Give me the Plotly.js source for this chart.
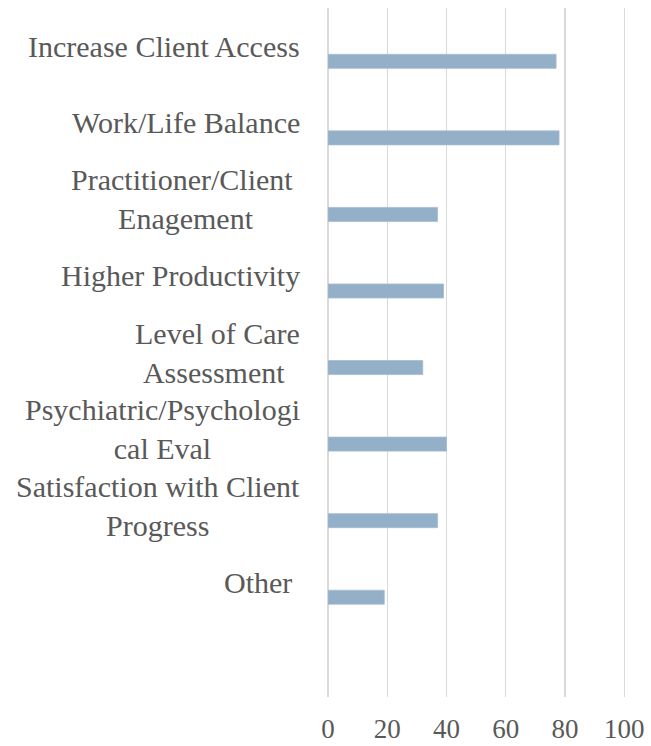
<!DOCTYPE html>
<html>
<head>
<meta charset="utf-8">
<script src="https://cdn.plot.ly/plotly-3.0.1.min.js"></script>
<style>html,body{margin:0;padding:0;background:#fff;}#chart{width:651px;height:746px;}</style>
</head>
<body>
<div id="chart"></div>
<script>
const categories = [
  "Increase Client Access",
  "Work/Life Balance",
  "Practitioner/Client\u00a0<br>Enagement",
  "Higher Productivity",
  "Level of Care<br>Assessment\u00a0",
  "Psychiatric/Psychologi<br>cal Eval",
  "Satisfaction with Client<br>Progress",
  "Other\u00a0"
];
const values = [77, 78, 37, 39, 32, 40, 37, 19];
const xTicks = [0, 20, 40, 60, 80, 100];

const FONT = "Liberation Serif";
const GRAY = "#595959";

const trace = {
  type: 'bar',
  orientation: 'h',
  y: categories,
  x: values,
  width: 0.183,
  offset: 0.105,
  marker: {color: '#94afc8', line: {color: '#a3bcd2', width: 0.8}},
  hoverinfo: 'skip'
};

const annotations = categories.map(c => ({
  text: c,
  xref: 'paper', yref: 'y',
  x: 0, y: c,
  xanchor: 'right', yanchor: 'middle',
  xshift: -26,
  align: 'center',
  showarrow: false,
  font: {family: FONT, size: 30, color: GRAY}
}));

const layout = {
  width: 651, height: 746,
  margin: {l: 328, r: 25, t: 8, b: 49},
  paper_bgcolor: '#ffffff',
  plot_bgcolor: '#ffffff',
  showlegend: false,
  xaxis: {
    range: [0, 100.6],
    tickvals: xTicks,
    ticktext: xTicks.map(String),
    showgrid: true, gridcolor: '#d9d9d9', gridwidth: 1.3,
    zeroline: true, zerolinecolor: '#d9d9d9', zerolinewidth: 1.3,
    showline: false,
    ticks: '', ticklabelstandoff: 13,
    tickfont: {family: FONT, size: 27, color: GRAY},
    fixedrange: true
  },
  yaxis: {
    type: 'category',
    categoryarray: categories,
    range: [8.5, -0.5],
    showticklabels: false,
    showgrid: false, zeroline: false, showline: false,
    ticks: '',
    fixedrange: true
  },
  annotations: annotations
};

Plotly.newPlot('chart', [trace], layout, {displayModeBar: false, staticPlot: true});
</script>
</body>
</html>
